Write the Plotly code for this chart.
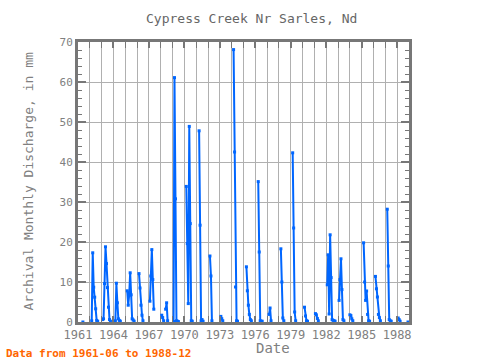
import pandas as pd
import plotly.graph_objects as go

N = None
# Monthly discharge (mm), Jan..Dec per year; None = no data
v1961 = [0, N, N, N, N, N, N]  # Jun..Dec
v1962 = [N, N, 0.3, 17.3, 8.7, 6.2, 3.3, 0.4, 0.2, N, N, N]
v1963 = [N, 0.6, 0.8, 9.6, 18.8, 14.6, 8.6, 3.7, 0.6, 0.2, N, N]
v1964 = [N, N, 0.3, 9.7, 4.8, 0.8, 0.4, 0.2, N, N, N, N]
v1965 = [N, N, 7.8, 4.2, 6.7, 12.3, 6.8, 0.8, 0.5, 0.2, N, N]
v1966 = [N, N, 12.1, 8.5, 4.2, 1.7, 0.3, N, N, N, N, N]
v1967 = [N, 5.2, 11.5, 18.1, 10.6, 3.2, N, N, N, N, N, N]
v1968 = [N, 1.7, 1.1, 0.3, N, 3.2, 4.8, 0.3, N, N, N, N]
v1969 = [N, 0.1, 61.1, 30.8, 0.3, 0.2, 0.1, N, N, N, N, N]
v1970 = [N, N, 33.9, 19.6, 4.6, 48.9, 24.6, 0.3, 0.2, N, N, N]
v1971 = [N, N, N, 47.8, 24.2, 0.3, 0.6, 0.2, N, N, N, N]
v1972 = [N, N, 16.5, 11.5, 0.3, N, N, N, N, N, N, N]
v1973 = [N, 1.4, 0.8, 0.3, N, N, N, N, N, N, N, N]
v1974 = [N, N, 68.1, 42.5, 8.75, 0.3, 0.2, N, N, N, N, N]
v1975 = [N, N, N, 13.8, 7.8, 4.2, 1.9, 0.6, 0.3, N, N, N]
v1976 = [N, N, N, 35.1, 17.5, 0.3, 0.2, 0.2, N, N, N, N]
v1977 = [N, N, 1.9, 3.5, 0.3, N, N, N, N, N, N, N]
v1978 = [N, N, 18.3, 10.0, 1.0, 0.3, N, N, N, N, N, N]
v1979 = [N, N, 42.3, 23.5, 2.5, 0.3, N, N, N, N, N, N]
v1980 = [N, N, 3.7, 1.5, 0.3, 0.2, N, N, N, N, N, N]
v1981 = [N, 2.1, 1.8, 0.9, 0.3, N, N, N, N, N, N, N]
v1982 = [N, 9.3, 16.8, 2.0, 21.8, 11.1, 0.6, 0.4, 0.3, 0.2, N, N]
v1983 = [N, 5.4, 10.6, 15.8, 8.1, 0.6, 0.3, N, N, N, N, N]
v1984 = [1.8, 1.6, 0.8, 0.3, N, N, N, N, N, N, N, N]
v1985 = [N, N, 19.8, 10.0, 5.4, 7.75, 1.9, 0.3, 0.2, N, N, N]
v1986 = [N, N, 11.4, 8.3, 6.25, 1.9, 1.1, 0.3, N, N, N, N]
v1987 = [N, N, 28.2, 14.0, 0.6, 0.3, 0.2, N, N, N, N, N]
v1988 = [N, 1.0, 0.6, 0.2, N, N, N, N, N, N, N, 0]

years = [v1961, v1962, v1963, v1964, v1965, v1966, v1967, v1968, v1969, v1970,
         v1971, v1972, v1973, v1974, v1975, v1976, v1977, v1978, v1979, v1980,
         v1981, v1982, v1983, v1984, v1985, v1986, v1987, v1988]
values = [v for yr in years for v in yr]
dates = pd.date_range(start="1961-06-01", periods=len(values), freq="MS")

grey = "#777777"
fig = go.Figure()
fig.add_trace(go.Scatter(
    x=dates, y=values, mode="lines+markers", connectgaps=False,
    line=dict(color="#0066FF", width=2),
    marker=dict(color="#0066FF", size=3, symbol="square"),
    cliponaxis=False, showlegend=False))

fig.update_layout(
    width=480, height=360,
    margin=dict(l=78, r=71, t=42, b=38),
    paper_bgcolor="white", plot_bgcolor="white",
    font=dict(family="DejaVu Sans Mono", size=11, color="#808080"),
    xaxis=dict(
        type="date", range=["1961-01-01", "1989-01-01"],
        tick0="1961-01-01", dtick="M36", tickformat="%Y",
        ticks="inside", ticklen=6, tickwidth=2, tickcolor=grey,
        showgrid=True, gridcolor="#b0b0b0", gridwidth=1,
        showline=True, linecolor=grey, linewidth=3, mirror="ticks",
        minor=dict(dtick="M12", tick0="1961-01-01", ticks="inside", ticklen=6,
                   tickwidth=1, tickcolor=grey, showgrid=True,
                   gridcolor="#b0b0b0", gridwidth=1),
        tickfont=dict(size=12, color="#808080"),
        zeroline=False,
    ),
    yaxis=dict(
        range=[0, 70], dtick=10, tick0=0,
        ticks="inside", ticklen=8, tickwidth=2, tickcolor=grey,
        showgrid=True, gridcolor="#b0b0b0", gridwidth=1,
        showline=True, linecolor=grey, linewidth=3, mirror="ticks",
        minor=dict(dtick=2, ticks="inside", ticklen=4, tickwidth=1,
                   tickcolor=grey, showgrid=False),
        tickfont=dict(size=11, color="#808080"),
        zeroline=False,
    ),
    annotations=[
        dict(text="Cypress Creek Nr Sarles, Nd", xref="paper", yref="paper",
             x=0.524, y=1, yshift=24, yanchor="middle", showarrow=False,
             font=dict(size=13, color="#666666")),
        dict(text="Date", xref="paper", yref="paper", x=0.59, y=0, yshift=-26,
             yanchor="middle", showarrow=False,
             font=dict(size=14, color="#808080")),
        dict(text="Archival Monthly Discharge, in mm", xref="paper", yref="paper",
             x=0, xshift=-60, y=0.5, textangle=-90, showarrow=False,
             font=dict(size=13, color="#808080")),
        dict(text="<b>Data from 1961-06 to 1988-12</b>", xref="paper", yref="paper",
             x=0, xshift=-74, xanchor="left", y=0, yshift=-31, yanchor="middle",
             showarrow=False, font=dict(size=11, color="#FF6600")),
    ],
)

fig.write_html("out.html", config={"displayModeBar": False},
               post_script="document.body.style.margin='0';document.body.style.padding='0';")
